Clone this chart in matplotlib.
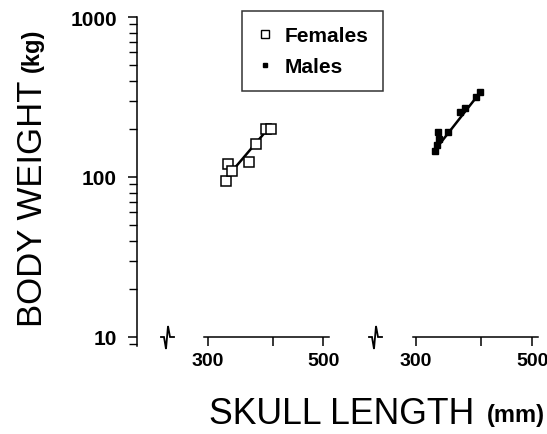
import matplotlib
matplotlib.use('Agg')
import matplotlib.pyplot as plt
from matplotlib.lines import Line2D
from matplotlib.ticker import FixedLocator, FixedFormatter, NullLocator, LogLocator, NullFormatter

plt.rcParams['font.family'] = ['Liberation Sans', 'DejaVu Sans']

# skull length (mm) and body weight (kg)
female_skull = [325, 328, 333, 360, 371, 388, 397]
female_weight = [94, 121, 109, 124, 160, 199, 199]
female_fit_x = [329, 390]
female_fit_y = [103, 197]

male_skull = [326, 329, 332, 331, 346, 364, 372, 391, 398]
male_weight = [146, 158, 173, 192, 192, 254, 269, 315, 338]
male_fit_x = [329, 398]
male_fit_y = [153, 338]

x_ticks = [300, 400, 500]
x_tick_labels = ['300', '', '500']
y_ticks = [10, 100, 1000]
y_tick_labels = ['10', '100', '1000']

W, H = 547, 435
fig = plt.figure(figsize=(W / 100, H / 100), dpi=100)


def frac(x, y):
    # pixel position (from top left) -> figure fraction
    return x / W, 1 - y / H


def axes_box(left, right, top, bottom):
    return [left / W, 1 - bottom / H, (right - left) / W, (bottom - top) / H]


ax1 = fig.add_axes(axes_box(137, 329, 18, 347))
ax2 = fig.add_axes(axes_box(413, 538, 18, 347))

for ax, xlim in ((ax1, (218.9, 513.3)), (ax2, (296.1, 513.2))):
    ax.set_xscale('log')
    ax.set_yscale('log')
    ax.set_xlim(*xlim)
    ax.set_ylim(8.785, 1000)
    ax.patch.set_visible(False)
    for s in ('top', 'right'):
        ax.spines[s].set_visible(False)
    ax.spines['bottom'].set_position(('data', 10))
    ax.spines['bottom'].set_linewidth(1.1)
    ax.xaxis.set_major_locator(FixedLocator(x_ticks))
    ax.xaxis.set_major_formatter(FixedFormatter(x_tick_labels))
    ax.xaxis.set_minor_locator(NullLocator())
    ax.tick_params(axis='x', direction='out', length=6.5, width=1.1, pad=4,
                   labelsize=14)
    for lab in ax.get_xticklabels():
        lab.set_fontweight('bold')

ax1.spines['bottom'].set_bounds(294.6, 513.3)
ax1.spines['left'].set_linewidth(1.1)
ax1.yaxis.set_major_locator(FixedLocator(y_ticks))
ax1.yaxis.set_major_formatter(FixedFormatter(y_tick_labels))
ax1.yaxis.set_minor_locator(LogLocator(base=10, subs=range(2, 10)))
ax1.yaxis.set_minor_formatter(NullFormatter())
ax1.tick_params(axis='y', which='major', direction='out', length=6.5, width=1.1,
                pad=8, labelsize=15)
ax1.tick_params(axis='y', which='minor', direction='out', length=5.5, width=1.0)
for lab in ax1.get_yticklabels():
    lab.set_fontweight('bold')

ax2.spines['left'].set_visible(False)
ax2.yaxis.set_major_locator(NullLocator())
ax2.yaxis.set_minor_locator(NullLocator())

# Females on the left segment, males on the right
ax1.plot(female_fit_x, female_fit_y, color='black', lw=1.8, zorder=2)
ax1.plot(female_skull, female_weight, ls='none', marker='s', ms=7.5,
         mfc='white', mec='black', mew=1.1, zorder=3, clip_on=False)
ax2.plot(male_fit_x, male_fit_y, color='black', lw=1.8, zorder=2)
ax2.plot(male_skull, male_weight, ls='none', marker='s', ms=4.5,
         mfc='black', mec='black', zorder=3, clip_on=False)

# axis break glyphs
glyph = [(-7, 0), (-4, 0), (-2, 12), (0, -11), (2, 0), (6, 0)]
for cx, cy in ((168, 338), (376, 338)):
    xs, ys = zip(*[frac(cx + dx, cy + dy) for dx, dy in glyph])
    fig.add_artist(Line2D(xs, ys, transform=fig.transFigure, color='black',
                          lw=1.3, solid_joinstyle='miter'))

handles = [
    Line2D([], [], ls='none', marker='s', ms=5.5, mfc='white', mec='black', mew=1.0),
    Line2D([], [], ls='none', marker='s', ms=3.5, mfc='black', mec='black'),
]
leg = ax1.legend(handles, ['Females', 'Males'], loc='upper left',
                 bbox_to_anchor=frac(242, 12), bbox_transform=fig.transFigure,
                 borderaxespad=0, frameon=True, fancybox=False, borderpad=0.72,
                 handlelength=0.72, handletextpad=0.6, labelspacing=0.58,
                 prop={'size': 15, 'weight': 'bold'})
leg.get_frame().set_edgecolor('black')
leg.get_frame().set_linewidth(1.1)

# axis titles, big caps with a small bold unit
fig.text(*frac(42, 327), 'BODY WEIGHT', rotation=90, rotation_mode='anchor',
         ha='left', va='baseline', fontsize=25)
fig.text(*frac(39, 72), '(kg)', rotation=90, rotation_mode='anchor',
         ha='left', va='baseline', fontsize=17, fontweight='bold')
fig.text(*frac(209, 424), 'SKULL LENGTH', ha='left', va='baseline', fontsize=25.7)
fig.text(*frac(487, 422), '(mm)', ha='left', va='baseline', fontsize=17,
         fontweight='bold')

fig.savefig('out.png', dpi=100)
